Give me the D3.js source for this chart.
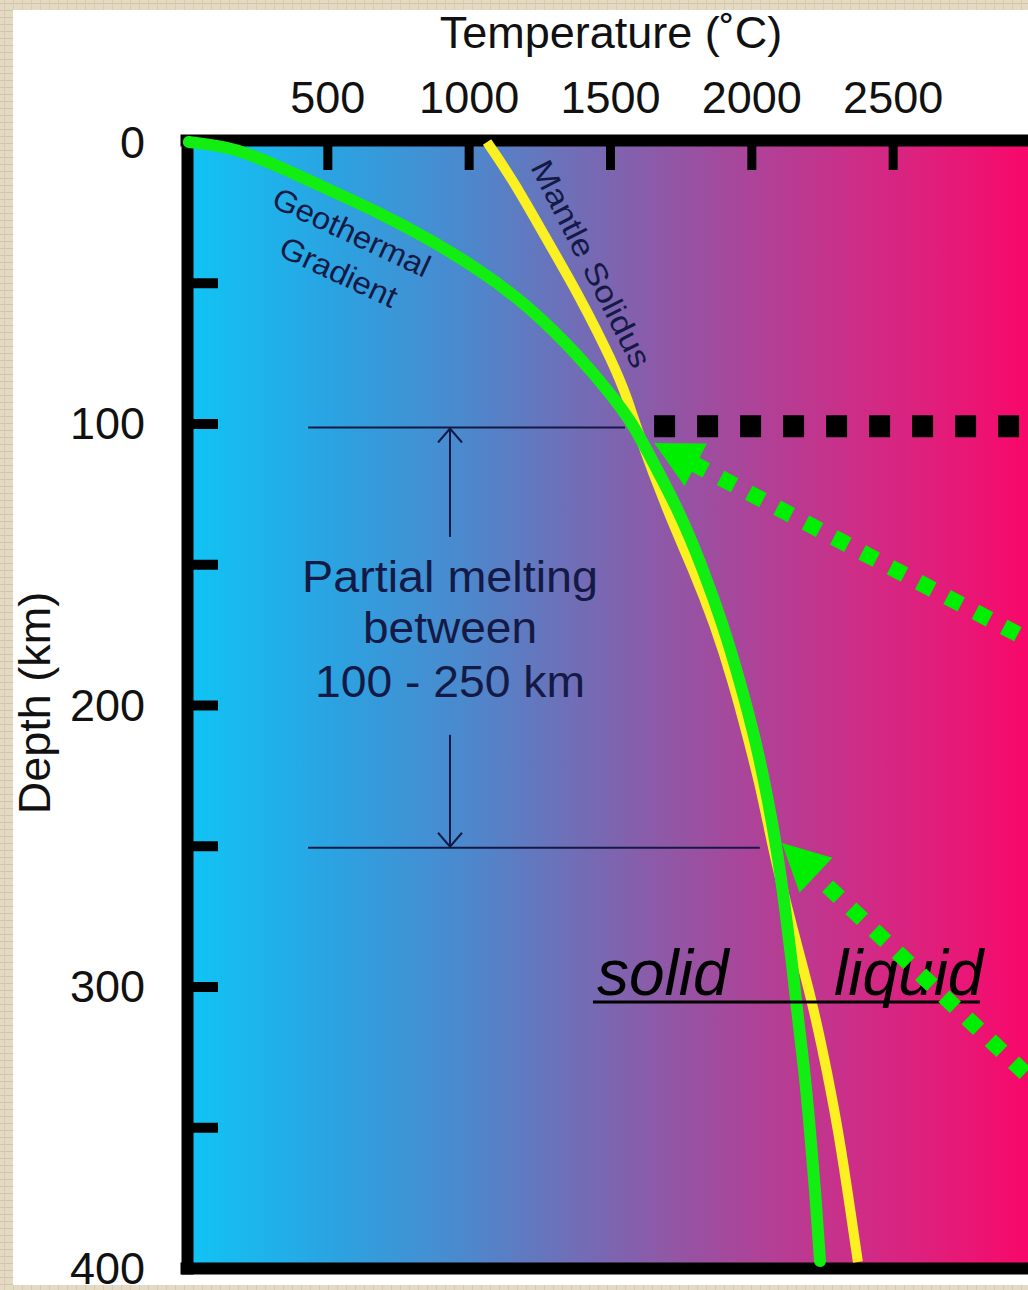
<!DOCTYPE html>
<html><head><meta charset="utf-8">
<script src="https://cdn.jsdelivr.net/npm/d3@7"></script>
<style>html,body{margin:0;padding:0;background:#fff;overflow:hidden}</style>
</head><body>
<script>
// ---- data ----
const xTickValues = [500, 1000, 1500, 2000, 2500];
const yTickValues = [0, 50, 100, 150, 200, 250, 300, 350, 400];
const yLabelValues = [0, 100, 200, 300, 400];

// Geothermal gradient (temperature °C vs depth km)
const geoDepth = [0, 1.8, 8.9, 17.1, 25.2, 34.6, 45.5, 58.6, 76.4, 90.6, 100.2, 111.5, 131.8, 151.7, 171.6, 191.8,
                  211.7, 231.6, 251.5, 271.8, 291.7, 311.5, 331.8, 351.7, 371.6, 397.5];
const geoTemp  = [10, 166, 333, 509, 686, 863, 1040, 1217, 1394, 1511, 1581, 1641, 1748, 1829, 1900, 1960,
                  2013, 2055, 2091, 2119, 2144, 2165, 2190, 2208, 2225, 2243];

// Mantle solidus
const solDepth = [0, 13.5, 34.8, 55.1, 78.5, 91.7, 101.2, 131.8, 151.7, 171.6, 191.8, 211.7, 231.6, 249.7,
                  276.4, 304.8, 331.8, 354.5, 397.9];
const solTemp  = [1065, 1157, 1277, 1394, 1511, 1564, 1592, 1705, 1794, 1871, 1935, 1988, 2038, 2073,
                  2137, 2215, 2271, 2314, 2377];

// Partial melting range
const meltTop = 100, meltBottom = 250;

// ---- layout ----
const W = 1028, H = 1290;
const x = d3.scaleLinear().domain([0, 3000]).range([186, 1034]);
const y = d3.scaleLinear().domain([0, 400]).range([142, 1268]);
const FONT = "'Liberation Sans', Arial, Helvetica, sans-serif";
const NAVY = "#141a45";

const svg = d3.select("body").append("svg")
  .attr("width", W).attr("height", H)
  .style("display", "block");

const defs = svg.append("defs");
// beige textured frame
const pat = defs.append("pattern").attr("id", "paper")
  .attr("patternUnits", "userSpaceOnUse").attr("width", 9).attr("height", 7);
pat.append("rect").attr("width", 9).attr("height", 7).attr("fill", "#e4dac3");
pat.append("rect").attr("x", 0).attr("y", 3).attr("width", 9).attr("height", 1).attr("fill", "#d3c6a6");
pat.append("rect").attr("x", 4).attr("y", 0).attr("width", 1).attr("height", 7).attr("fill", "#d8ccae");

const grad = defs.append("linearGradient").attr("id", "bg")
  .attr("gradientUnits", "userSpaceOnUse")
  .attr("x1", 186).attr("x2", 1028).attr("y1", 0).attr("y2", 0);
[[0, "#0ec6f6"], [0.013, "#12c2f4"], [0.169, "#2aa4e2"], [0.324, "#4a8ace"], [0.44, "#6a72ba"],
 [0.558, "#8c5aa8"], [0.675, "#ad4398"], [0.791, "#cc2e88"], [0.909, "#e51a78"], [1, "#f8086a"]]
  .forEach(([o, c]) => grad.append("stop").attr("offset", o).attr("stop-color", c));

svg.append("rect").attr("width", W).attr("height", H).attr("fill", "url(#paper)");
svg.append("rect").attr("x", 13).attr("y", 10).attr("width", W - 13).attr("height", 1275).attr("fill", "#ffffff");

// plot background
svg.append("rect")
  .attr("x", x(0)).attr("y", y(0) - 2)
  .attr("width", W - x(0)).attr("height", y(400) - y(0) + 2)
  .attr("fill", "url(#bg)");

// ---- axes ----
const topAxis = svg.append("g").attr("transform", "translate(0,140)")
  .call(d3.axisTop(x).tickValues(xTickValues).tickFormat(d3.format("d"))
    .tickSizeInner(-30).tickSizeOuter(0).tickPadding(27));
const leftAxis = svg.append("g").attr("transform", "translate(187,0)")
  .call(d3.axisLeft(y).tickValues(yTickValues).tickSizeInner(-31).tickSizeOuter(0).tickPadding(42)
    .tickFormat(d => yLabelValues.includes(d) ? String(d) : ""));
const bottomAxis = svg.append("g").attr("transform", "translate(0,1268)")
  .call(d3.axisBottom(x).tickValues([]).tickSizeOuter(0));

[topAxis, leftAxis, bottomAxis].forEach(g => {
  g.attr("font-family", FONT).attr("font-size", 45);
  g.select(".domain").attr("stroke", "#000").attr("stroke-width", 12).attr("stroke-linecap", "square");
  g.selectAll(".tick text").attr("fill", "#111");
});
topAxis.selectAll(".tick line").attr("stroke", "#000").attr("stroke-width", 9);
leftAxis.selectAll(".tick line").attr("stroke", "#000").attr("stroke-width", 10);
leftAxis.selectAll(".tick text").attr("dy", "0.34em");

// axis titles
svg.append("text").attr("x", 611).attr("y", 48).attr("text-anchor", "middle")
  .attr("font-family", FONT).attr("font-size", 45).attr("fill", "#111")
  .text("Temperature (˚C)");
svg.append("text").attr("transform", "translate(50,703) rotate(-90)").attr("text-anchor", "middle")
  .attr("font-family", FONT).attr("font-size", 45).attr("fill", "#111")
  .text("Depth (km)");

// ---- partial-melting annotation ----
const ann = svg.append("g").attr("stroke", NAVY).attr("stroke-width", 2).attr("fill", "none");
ann.append("line").attr("x1", x(432)).attr("x2", x(1553)).attr("y1", y(meltTop) + 4).attr("y2", y(meltTop) + 4);
ann.append("line").attr("x1", x(432)).attr("x2", x(2030)).attr("y1", y(meltBottom) + 2).attr("y2", y(meltBottom) + 2);
const ax = x(934);
ann.append("line").attr("x1", ax).attr("x2", ax).attr("y1", y(meltTop) + 5).attr("y2", y(140.3));
ann.append("path").attr("d", `M${ax - 12},${y(meltTop) + 19}L${ax},${y(meltTop) + 5}L${ax + 12},${y(meltTop) + 19}`);
ann.append("line").attr("x1", ax).attr("x2", ax).attr("y1", y(210.6)).attr("y2", y(meltBottom) + 1);
ann.append("path").attr("d", `M${ax - 12},${y(meltBottom) - 13}L${ax},${y(meltBottom) + 1}L${ax + 12},${y(meltBottom) - 13}`);

const melt = svg.append("g").attr("font-family", FONT).attr("font-size", 44).attr("fill", NAVY).attr("text-anchor", "middle");
[["Partial melting", 592, 296], ["between", 643, 174], ["100 - 250 km", 697, 270]].forEach(([t, yy, len]) => {
  melt.append("text").attr("x", ax).attr("y", yy).attr("textLength", len)
    .attr("lengthAdjust", "spacingAndGlyphs").text(t);
});

// ---- curves ----
const line = d3.line().x(d => x(d.t)).y(d => y(d.d)).curve(d3.curveBasis);
const sol = solDepth.map((d, i) => ({ d, t: solTemp[i] }));
const geo = geoDepth.map((d, i) => ({ d, t: geoTemp[i] }));
svg.append("path").datum(sol).attr("d", line).attr("fill", "none")
  .attr("stroke", "#fbf021").attr("stroke-width", 10);
svg.append("path").datum(geo).attr("d", line).attr("fill", "none")
  .attr("stroke", "#12ee12").attr("stroke-width", 12).attr("stroke-linecap", "round");

// curve labels
const lab = svg.append("g").attr("font-family", FONT).attr("font-size", 31).attr("fill", NAVY);
lab.append("text").attr("transform", "translate(270,206) rotate(25)")
  .attr("textLength", 170).attr("lengthAdjust", "spacingAndGlyphs").text("Geothermal");
lab.append("text").attr("transform", "translate(277,255) rotate(25)")
  .attr("textLength", 126).attr("lengthAdjust", "spacingAndGlyphs").text("Gradient");
lab.append("text").attr("transform", "translate(530,167) rotate(63)")
  .attr("textLength", 228).attr("lengthAdjust", "spacingAndGlyphs").text("Mantle Solidus");

// solid / liquid
const sl = svg.append("g").attr("font-family", FONT).attr("font-size", 64)
  .attr("font-style", "italic").attr("fill", "#000");
sl.append("text").attr("x", 597).attr("y", 995).text("solid");
sl.append("text").attr("x", 834).attr("y", 995).text("liquid");
svg.append("line").attr("x1", 593).attr("x2", 980).attr("y1", 1002).attr("y2", 1002)
  .attr("stroke", "#000").attr("stroke-width", 3);

// ---- dotted arrows ----
function dottedArrow(tip, tail, startBack, offset) {
  const tx = x(tip.t), ty = y(tip.d), ex = x(tail.t), ey = y(tail.d);
  const dx = ex - tx, dy = ey - ty, L = Math.hypot(dx, dy), ux = dx / L, uy = dy / L;
  const hl = 47, hw = 24;
  const bx = tx + ux * hl, by = ty + uy * hl;
  const sx = bx - ux * startBack, sy = by - uy * startBack;
  svg.append("line").attr("x1", sx).attr("y1", sy).attr("x2", ex).attr("y2", ey)
    .attr("stroke", "#00ee00").attr("stroke-width", 16)
    .attr("stroke-dasharray", "16 16").attr("stroke-dashoffset", offset);
  svg.append("path")
    .attr("d", `M${tx},${ty}L${bx - uy * hw},${by + ux * hw}L${bx + uy * hw},${by - ux * hw}Z`)
    .attr("fill", "#00ee00");
}
dottedArrow({ t: 1656, d: 106.9 }, { t: 3021, d: 179 }, 4, 0);
dottedArrow({ t: 2108, d: 249 }, { t: 3039, d: 337.5 }, 0, 16);

// black dotted line at 100 km
svg.append("line").attr("x1", x(1656)).attr("x2", x(3030)).attr("y1", y(101)).attr("y2", y(101))
  .attr("stroke", "#000").attr("stroke-width", 22).attr("stroke-dasharray", "21 22");

// bottom frame strip
svg.append("rect").attr("x", 0).attr("y", 1285).attr("width", W).attr("height", 5).attr("fill", "url(#paper)");
</script>
</body></html>
